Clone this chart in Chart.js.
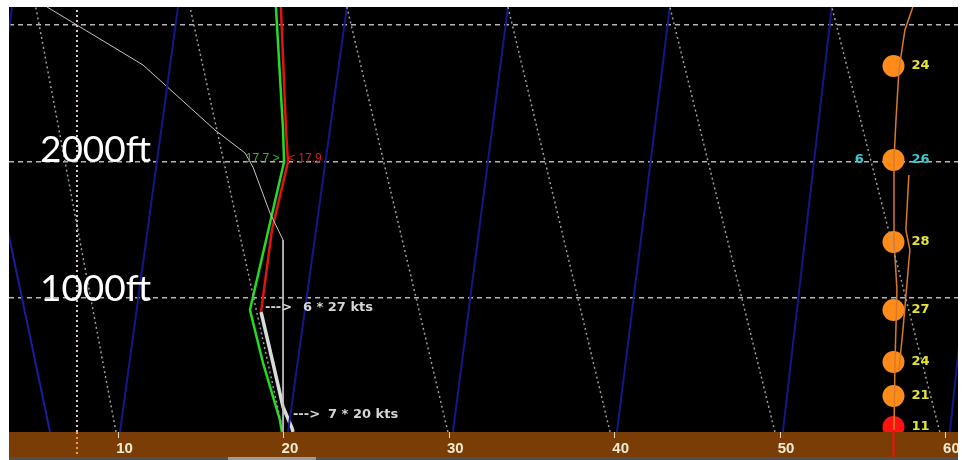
<!DOCTYPE html>
<html>
<head>
<meta charset="utf-8">
<script src="https://cdn.jsdelivr.net/npm/chart.js@4.4.1/dist/chart.umd.min.js"></script>
<style>
  html, body { margin:0; padding:0; background:#fff; }
  #wrap { width:965px; height:460px; }
</style>
</head>
<body>
<div id="wrap"><canvas id="sounding" width="965" height="460"></canvas></div>
<script>
// ── Data (x = skewed temperature axis, y = height in ft) ──────────────
const xTicks    = [10, 20, 30, 40, 50, 60];
const levelFt   = [1000, 2000, 3000];

// temperature (red) above the inversion, surface part drawn in grey
const tempX     = [19.82, 20.13, 20.25, 19.28, 18.62];
const tempFt    = [3130, 2230, 1996, 1498, 898];
const tempLowX  = [18.62, 19.34, 19.95, 20.49, 20.55];
const tempLowFt = [898, 525, 203, 49, 20];

// dew point (green)
const dewX      = [19.52, 19.95, 20.01, 17.95, 18.74, 19.76, 19.88];
const dewFt     = [3130, 2230, 1996, 913, 525, 108, 20];

// thin parcel trace
const parcelX   = [5.68, 11.48, 15.83, 17.65, 18.13, 19.16, 19.95, 19.95];
const parcelFt  = [3130, 2706, 2230, 2062, 1959, 1623, 1425, 20];

// isotherms (blue) and dry adiabats (dotted): x at the ground and at the top
const isoBase   = [0, 10.09, 20.25, 30.22, 40.14, 50.17, 60.27];
const isoTop    = [3.56, 13.60, 23.81, 33.55, 43.34, 53.13, 62.99];
const adiaBase  = [9.85, 19.95, 29.92, 39.72, 49.69, 59.66];
const adiaTop   = [5.00, 14.32, 23.81, 33.55, 43.34, 53.13];
const moistX    = [0.48, 5.86];
const moistFt   = [3130, 20];
const markX     = 7.49;

// wind column
const windX     = 56.86;
const windFt    = [2698, 2010, 1410, 913, 532, 283, 57];
const windKts   = [24, 26, 28, 27, 24, 21, 11];
const windDirFt = 2010;
const windDir   = '6';
const orangeAX  = [58.03, 57.55, 57.19, 57.01, 56.89, 56.89, 57.07, 56.95, 56.89];
const orangeAFt = [3130, 2962, 2669, 2303, 2010, 1425, 1059, 532, 35];
const orangeBX  = [57.79, 57.61, 57.85, 57.43, 57.19];
const orangeBFt = [1901, 1498, 1352, 766, 474];

// text
const heightLabels   = ['2000ft', '1000ft'];
const heightLabelFt  = [1996, 979];
const heightLabelX   = 5.25;
const windText       = ['6 * 27 kts', '7 * 20 kts'];
const windTextFt     = [927, 144];
const windTextX      = [21.15, 22.67];
const windArrowX     = [18.86, 20.55];
const tdLabel        = { x: 17.70, ft: 2018, text: '17.7 >' };
const tLabel         = { x: 20.25, ft: 2018, text: '< 17.9' };

const GROUND_FT = 20, TOP_FT = 3130, BAND_FT = -163;

// ── Helpers ───────────────────────────────────────────────────────────
const pts = (xs, ys) => xs.map((v, i) => ({ x: v, y: ys[i] }));

function line(xs, ys, color, width, dash, extra) {
    return Object.assign({
        type: 'scatter', showLine: true, pointRadius: 0, pointHoverRadius: 0,
        data: pts(xs, ys), borderColor: color, borderWidth: width,
        borderDash: dash || [], tension: 0,
    }, extra || {});
}

const datasets = [];
adiaBase.forEach((b, i) => datasets.push(line([b, adiaTop[i]], [GROUND_FT, TOP_FT], '#98a09a', 1.5, [2, 3])));
isoBase.forEach((b, i) => datasets.push(line([b, isoTop[i]], [GROUND_FT, TOP_FT], '#16168a', 2)));
datasets.push(line(moistX, moistFt, '#1c1ca0', 2));
datasets.push(line([markX, markX], [GROUND_FT, TOP_FT], '#d6c6c6', 2, [2, 3]));
datasets.push(line([markX, markX], [GROUND_FT, BAND_FT], '#eea050', 2, [2, 3], { clip: false }));
datasets.push(line(parcelX, parcelFt, '#c4c4c4', 1));
datasets.push(line(tempX, tempFt, '#e01414', 2.5));
datasets.push(line(dewX, dewFt, '#22dd22', 2.5));
datasets.push(line(tempLowX, tempLowFt, '#dadada', 3.5));
datasets.push(line(orangeAX, orangeAFt, '#d87a28', 1.5));
datasets.push(line(orangeBX, orangeBFt, '#d87a28', 1.5));
datasets.push(line([windX, windX], [windFt[windFt.length - 1], BAND_FT], '#f01010', 2, null, { clip: false }));
datasets.push({
    type: 'scatter', data: windFt.map(f => ({ x: windX, y: f })),
    pointRadius: 11, pointHoverRadius: 11, borderWidth: 0,
    backgroundColor: windFt.map((f, i) => i === windFt.length - 1 ? '#ff1212' : '#ff8c1a'),
});

// ── Plugins ───────────────────────────────────────────────────────────
const backdrop = {
    id: 'backdrop',
    beforeDraw(chart) {
        const { ctx, chartArea: a, scales: { x } } = chart;
        ctx.save();
        ctx.fillStyle = '#fff';
        ctx.fillRect(0, 0, chart.width, chart.height);
        ctx.fillStyle = '#000';
        ctx.fillRect(a.left, a.top, a.right - a.left, a.bottom - a.top);
        ctx.fillStyle = '#7b3d06';
        ctx.fillRect(a.left, x.top, a.right - a.left, x.bottom - x.top);
        ctx.fillStyle = '#505050';
        ctx.fillRect(a.left, x.bottom, a.right - a.left, chart.height - x.bottom);
        ctx.fillStyle = '#9c9c9c';
        const s0 = x.getPixelForValue(16.62), s1 = x.getPixelForValue(21.94);
        ctx.fillRect(s0, x.bottom, s1 - s0, chart.height - x.bottom);
        ctx.restore();
    }
};

const annotations = {
    id: 'annotations',
    afterDatasetsDraw(chart) {
        const { ctx, scales: { x, y } } = chart;
        ctx.save();

        ctx.fillStyle = '#fff';
        ctx.font = '37px Lato';
        ctx.textBaseline = 'alphabetic';
        heightLabels.forEach((t, i) => ctx.fillText(t, x.getPixelForValue(heightLabelX), y.getPixelForValue(heightLabelFt[i])));

        ctx.font = '12px "Liberation Sans"';
        ctx.textBaseline = 'middle';
        ctx.fillStyle = '#2bbf2b';
        ctx.fillText(tdLabel.text, x.getPixelForValue(tdLabel.x), y.getPixelForValue(tdLabel.ft));
        ctx.fillStyle = '#d42020';
        ctx.fillText(tLabel.text, x.getPixelForValue(tLabel.x), y.getPixelForValue(tLabel.ft));

        ctx.font = 'bold 13px "DejaVu Sans"';
        ctx.fillStyle = '#d6d6d6';
        windText.forEach((t, i) => {
            const py = y.getPixelForValue(windTextFt[i]);
            ctx.fillText('--->', x.getPixelForValue(windArrowX[i]), py);
            ctx.fillText(t, x.getPixelForValue(windTextX[i]), py);
        });

        ctx.font = 'bold 13px "DejaVu Sans"';
        const lx = x.getPixelForValue(windX) + 18;
        windFt.forEach((f, i) => {
            ctx.fillStyle = f === windDirFt ? '#3cc8d0' : '#e4e43a';
            ctx.fillText(String(windKts[i]), lx, y.getPixelForValue(f));
        });
        ctx.fillStyle = '#3cc8d0';
        ctx.fillText(windDir, x.getPixelForValue(54.52), y.getPixelForValue(windDirFt));
        ctx.restore();
    }
};

// ── Chart ─────────────────────────────────────────────────────────────
new Chart(document.getElementById('sounding'), {
    type: 'scatter',
    data: { datasets },
    plugins: [backdrop, annotations],
    options: {
        responsive: false, animation: false, devicePixelRatio: 1,
        layout: { autoPadding: false, padding: { left: 9, right: 7, top: 7, bottom: 3 } },
        plugins: { legend: { display: false }, tooltip: { enabled: false } },
        scales: {
            x: {
                type: 'linear', position: 'bottom', min: 3.38, max: 60.76,
                afterBuildTicks: s => { s.ticks = xTicks.map(v => ({ value: v })); },
                afterFit: s => { s.height = 25; s.paddingLeft = 0; s.paddingRight = 0; },
                grid: { drawOnChartArea: false, drawTicks: true, tickLength: 6, color: '#e6d8bc', lineWidth: 1 },
                border: { display: false },
                ticks: {
                    color: '#f2ead2', padding: 2, labelOffset: 6, maxRotation: 0, autoSkip: false,
                    font: { family: 'Liberation Sans', size: 15, weight: 'bold' },
                },
            },
            y: {
                type: 'linear', position: 'left', min: GROUND_FT, max: TOP_FT,
                afterBuildTicks: s => { s.ticks = levelFt.map(v => ({ value: v })); },
                afterFit: s => { s.width = 0; s.paddingTop = 0; s.paddingBottom = 0; },
                grid: { drawTicks: false, color: '#b6b6b6', lineWidth: 1.5 },
                border: { display: false, dash: [5, 4] },
                ticks: { display: false },
            },
        },
    },
});
</script>
</body>
</html>
